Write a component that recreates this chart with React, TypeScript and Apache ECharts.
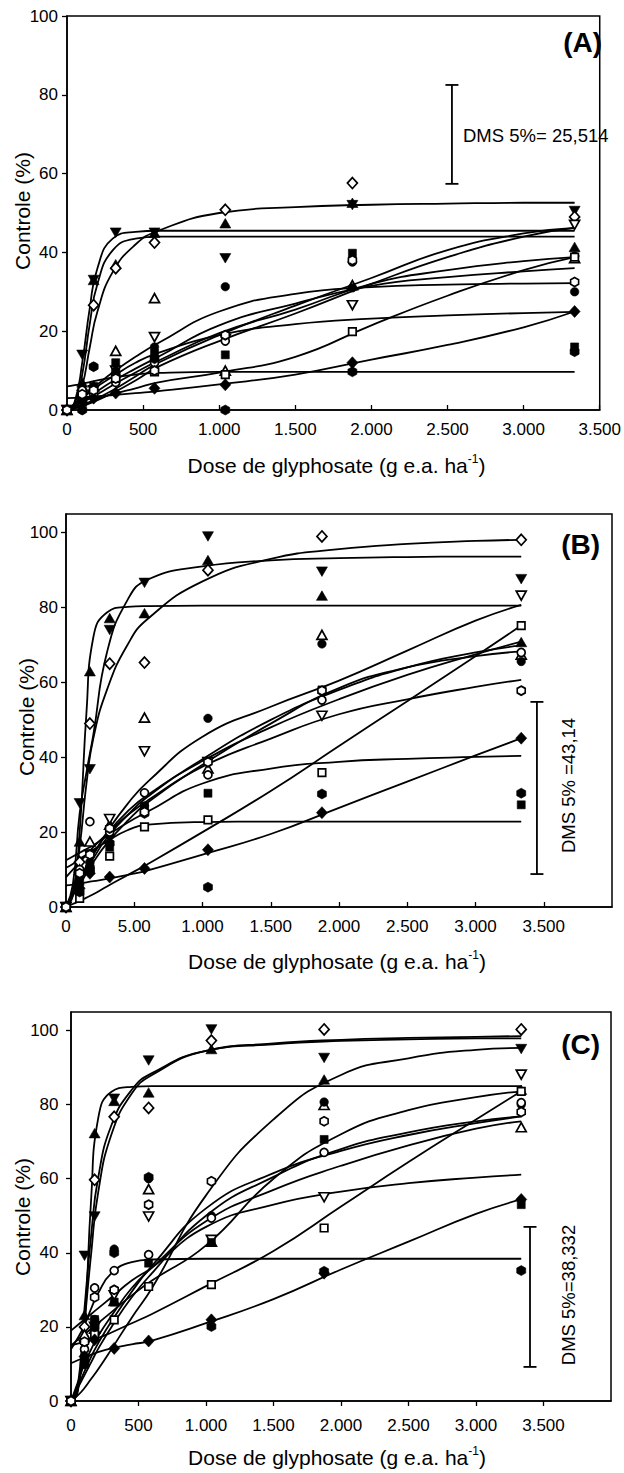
import React, { useEffect, useRef } from "react";
import * as echarts from "echarts";

// ---------- data ----------
const DOSES = [0, 100, 175, 320, 575, 1040, 1875, 3335];
const CURVE_X = [0, 50, 100, 150, 200, 300, 450, 600, 1000, 1500, 2000, 2500, 3000, 3335];
const X_TICKS = [0, 500, 1000, 1500, 2000, 2500, 3000, 3500];
const Y_TICKS = [0, 20, 40, 60, 80, 100];

const MARKERS = [
  "invTriFilled", "triFilled", "diamondOpen", "triOpen", "invTriOpen", "circleFilled",
  "circleOpen", "squareFilled", "squareOpen", "diamondFilled", "hexFilled", "hexOpen",
];

// Panel A – observed points
const A_invTriFilled = [0, 14, 33, 45, 45, 38.5, 52, 50.5];
const A_triFilled = [0, 7, 33, 37, 45, 47.4, 52.6, 41.4];
const A_diamondOpen = [0, 5, 26.6, 36, 42.5, 50.8, 57.6, 49];
const A_triOpen = [0, 4, 6, 15, 28.4, 10, 31.7, 38.5];
const A_invTriOpen = [0, 3, 5, 10, 18.5, 18, 26.6, 47];
const A_circleFilled = [0, 0, 11, 10, 16, 31.3, 31, 30];
const A_circleOpen = [0, 5, 5, 7, 12, 17.5, 37.6, 39];
const A_squareFilled = [0, 3, 6, 12, 14.4, 14, 39.8, 16];
const A_squareOpen = [0, 2, 4, 8, 9.7, 9, 19.9, 38.8];
const A_diamondFilled = [0, 2, 3, 4.3, 5.5, 6.4, 12, 25];
const A_hexFilled = [0, 0, 11, 9, 13, 0, 9.7, 14.8];
const A_hexOpen = [0, 4, 5, 8, 10, 19, 38, 32.5];
// Panel A – fitted curves (read at CURVE_X)
const A_fit_invTriFilled = [0, 2, 12, 26, 36, 43.5, 45.2, 45.5, 45.5, 45.5, 45.5, 45.5, 45.5, 45.5];
const A_fit_triFilled = [0, 1.5, 9, 22, 32, 40.5, 43.5, 44, 44, 44, 44, 44, 44, 44];
const A_fit_diamondOpen = [0, 1, 6, 16, 25, 35, 42, 45.5, 50, 51.5, 52.1, 52.4, 52.6, 52.6];
const A_fit_invTriOpen = [0, 0.5, 1.2, 2, 3, 5, 8.5, 12, 19, 26.5, 33.5, 40.6, 44.8, 46.2];
const A_fit_circleOpen = [0, 0.4, 1, 1.7, 2.5, 4.3, 7.5, 11, 17.5, 24.5, 32, 38.8, 44, 46.2];
const A_fit_triOpen = [0, 0.8, 1.8, 3, 4, 6.3, 9.5, 12.5, 19.5, 25.5, 32, 35.5, 37.8, 38.8];
const A_fit_circleFilled = [0, 1, 2.3, 3.5, 4.8, 7.3, 10.5, 13.5, 21.5, 27, 31.5, 33.7, 35.2, 36];
const A_fit_hexOpen = [0, 1.5, 3.2, 5, 6.5, 9.5, 13.5, 17, 25, 29.5, 31.2, 31.8, 32.1, 32.2];
const A_fit_squareFilled = [0, 1.5, 3, 4.5, 6, 8.5, 12, 14.5, 19, 21.8, 23.2, 24, 24.6, 24.9];
const A_fit_squareOpen = [0, 0.5, 1.2, 2, 2.8, 4, 5.5, 7, 9.5, 13.5, 21.5, 29, 35.5, 38.8];
const A_fit_diamondFilled = [3, 3.1, 3.2, 3.4, 3.5, 3.8, 4.3, 4.8, 6.5, 9, 12.8, 16.5, 21, 25];
const A_fit_hexFilled = [6, 6.3, 6.7, 7.1, 7.5, 8.2, 9, 9.4, 9.7, 9.7, 9.7, 9.7, 9.7, 9.7];
const A_DMS = [2529, 57.4, 82.5];

// Panel B – observed points
const B_invTriFilled = [0, 27.7, 36.8, 74, 86.6, 99, 89.6, 87.6];
const B_triFilled = [0, 17.5, 63, 77.2, 78.5, 92.7, 83.2, 70.8];
const B_diamondOpen = [0, 12, 49, 65, 65.3, 90, 99, 98.1];
const B_triOpen = [0, 10, 17.5, 22, 50.6, 37, 72.7, 67.4];
const B_invTriOpen = [0, 8, 14, 23.5, 41.6, 38.7, 51.1, 83.2];
const B_circleFilled = [0, 6, 12, 19, 27, 50.4, 70.3, 65.6];
const B_circleOpen = [0, 10, 22.8, 20, 30.5, 35.3, 55.3, 68];
const B_squareFilled = [0, 7, 11, 16, 26.8, 30.4, 58, 27.3];
const B_squareOpen = [0, 2.3, 10, 13.6, 21.4, 23.3, 35.9, 75.2];
const B_diamondFilled = [0, 5, 9, 8, 10.3, 15.3, 25.2, 45.1];
const B_hexFilled = [0, 4, 10, 17, 25, 5.3, 30.2, 30.4];
const B_hexOpen = [0, 9, 14, 21, 25.4, 38.7, 57.8, 57.8];
// Panel B – fitted curves
const B_fit_triFilled = [0, 3, 20, 52, 72, 78.7, 80.2, 80.4, 80.5, 80.5, 80.5, 80.5, 80.5, 80.5];
const B_fit_invTriFilled = [0, 6, 25, 36, 46, 68, 82, 87.5, 91, 92.6, 93.2, 93.5, 93.6, 93.6];
const B_fit_diamondOpen = [0, 4, 16, 33, 45, 58, 70, 77, 87, 93, 95.6, 97, 97.8, 98.1];
const B_fit_circleFilled = [0, 3.5, 7, 10.5, 14, 20, 27.5, 33.5, 45.5, 53.5, 60.5, 68.5, 76.5, 80.7];
const B_fit_squareOpen = [0, 0.8, 1.6, 2.5, 3.4, 5.5, 8.5, 11.5, 20, 31, 43, 55, 67, 75.2];
const B_fit_triOpen = [0, 4, 7.5, 11, 14, 19.5, 25.5, 30, 39, 48, 55.5, 62, 67.5, 70.9];
const B_fit_hexOpen = [0, 3.5, 7, 10, 13, 18.5, 24.5, 29.5, 39.5, 50, 58, 64, 68, 69.9];
const B_fit_squareFilled = [0, 3, 6, 9, 12, 17, 23, 28, 38, 49, 58.5, 64, 67, 68.3];
const B_fit_invTriOpen = [8, 10, 12, 14, 16, 19.5, 24.5, 28.5, 37.5, 45, 51.5, 55.5, 58.8, 60.7];
const B_fit_diamondFilled = [5.8, 6, 6.3, 6.6, 6.9, 7.5, 8.6, 9.8, 14, 19.5, 26.5, 33.5, 40.5, 45.1];
const B_fit_circleOpen = [12.5, 13.5, 14.5, 15.5, 16.5, 19, 22.5, 25.5, 33, 37, 38.8, 39.6, 40.1, 40.4];
const B_fit_hexFilled = [10.5, 11.5, 12.8, 14, 15.3, 17.5, 20.5, 22, 22.7, 22.8, 22.8, 22.8, 22.8, 22.8];
const B_DMS = [3450, 8.8, 54.8];

// Panel C – observed points
const C_invTriFilled = [0, 39.2, 49.8, 81.6, 91.9, 100.3, 92.6, 95];
const C_triFilled = [0, 23.2, 72.3, 81, 83.3, 95, 86.8, 84];
const C_diamondOpen = [0, 20, 59.7, 76.7, 79.1, 97.3, 100.3, 100.3];
const C_triOpen = [0, 18, 19.5, 27, 57.2, 43, 79.9, 73.9];
const C_invTriOpen = [0, 15, 20, 28.5, 49.8, 43.5, 55, 88.1];
const C_circleFilled = [0, 12, 22, 41, 60, 50, 80.7, 80];
const C_circleOpen = [0, 14, 30.5, 35.2, 39.5, 49.4, 67.1, 80.5];
const C_squareFilled = [0, 11, 22, 26.7, 37.2, 42.8, 70.6, 53];
const C_squareOpen = [0, 10, 18, 21.9, 30.9, 31.4, 46.7, 83.6];
const C_diamondFilled = [0, 12, 16.5, 14.2, 16.2, 21.9, 34.5, 54.4];
const C_hexFilled = [0, 10, 20, 40, 60.4, 20.1, 35, 35.2];
const C_hexOpen = [0, 16, 28, 30, 53, 59.3, 75.5, 78];
// Panel C – fitted curves
const C_fit_triFilled = [0, 2.5, 20, 55, 76, 83.5, 84.8, 85, 85, 85, 85, 85, 85, 85];
const C_fit_invTriFilled = [0, 4, 25, 45, 60, 74.5, 84, 88.5, 94.5, 96.3, 97.2, 97.6, 97.9, 97.9];
const C_fit_diamondOpen = [0, 3, 21, 40, 56, 72, 83, 88, 94.5, 96.5, 97.5, 98, 98.3, 98.5];
const C_fit_circleFilled = [0, 1.5, 3.5, 6, 8.5, 14, 22.5, 30.5, 55.5, 76, 88, 92.5, 94.8, 95.3];
const C_fit_squareFilled = [15, 16.5, 18, 19.5, 21, 24, 28.5, 32.5, 42, 60, 72, 78.5, 82, 83.6];
const C_fit_squareOpen = [15, 15.5, 16, 16.5, 17, 18.5, 21, 23.5, 31, 40.5, 52.5, 64.5, 76, 83.6];
const C_fit_circleOpen = [0, 4, 8, 12, 15.5, 21.5, 29.5, 36.5, 52, 61.5, 67.5, 71.8, 75, 76.8];
const C_fit_hexOpen = [0, 3.5, 7, 10.5, 14, 20, 28, 34.5, 50, 60.5, 68, 72.5, 75.5, 76.8];
const C_fit_triOpen = [0, 5, 10, 14, 17.5, 23, 30.5, 36, 48.5, 57, 63.5, 69, 73.5, 75.5];
const C_fit_invTriOpen = [19, 20.5, 22, 23.5, 25, 28, 32.5, 36, 47, 53, 56.5, 58.8, 60.3, 61.1];
const C_fit_diamondFilled = [10.2, 11, 11.8, 12.5, 13.2, 14.2, 15.3, 16.3, 21, 27.5, 35.5, 43, 50.5, 54.4];
const C_fit_hexFilled = [14, 17, 20.5, 25, 29, 34.5, 37.5, 38.2, 38.4, 38.4, 38.4, 38.4, 38.4, 38.4];
const C_DMS = [3400, 9.2, 47.0];

// ---------- assembly ----------
const FONT = '"Liberation Sans", Arial, Helvetica, sans-serif';
const HEX = "path://M0,-10L8.66,-5L8.66,5L0,10L-8.66,5L-8.66,-5Z";

const STYLE: Record<string, any> = {
  invTriFilled: { symbol: "triangle", size: [11, 9.5], rotate: 180, filled: true },
  triFilled: { symbol: "triangle", size: [11, 9.5], rotate: 0, filled: true },
  diamondOpen: { symbol: "diamond", size: [10, 11], rotate: 0, filled: false },
  triOpen: { symbol: "triangle", size: [10, 9], rotate: 0, filled: false },
  invTriOpen: { symbol: "triangle", size: [10, 9], rotate: 180, filled: false },
  circleFilled: { symbol: "circle", size: 8.5, rotate: 0, filled: true },
  circleOpen: { symbol: "circle", size: 8, rotate: 0, filled: false },
  squareFilled: { symbol: "rect", size: 8, rotate: 0, filled: true },
  squareOpen: { symbol: "rect", size: 7.5, rotate: 0, filled: false },
  diamondFilled: { symbol: "diamond", size: [11, 12], rotate: 0, filled: true },
  hexFilled: { symbol: HEX, size: [9, 10], rotate: 0, filled: true },
  hexOpen: { symbol: HEX, size: [8, 9], rotate: 0, filled: false },
};

const PANELS = [
  {
    label: "(A)",
    points: { invTriFilled: A_invTriFilled, triFilled: A_triFilled, diamondOpen: A_diamondOpen, triOpen: A_triOpen, invTriOpen: A_invTriOpen, circleFilled: A_circleFilled, circleOpen: A_circleOpen, squareFilled: A_squareFilled, squareOpen: A_squareOpen, diamondFilled: A_diamondFilled, hexFilled: A_hexFilled, hexOpen: A_hexOpen } as Record<string, number[]>,
    curves: { invTriFilled: A_fit_invTriFilled, triFilled: A_fit_triFilled, diamondOpen: A_fit_diamondOpen, triOpen: A_fit_triOpen, invTriOpen: A_fit_invTriOpen, circleFilled: A_fit_circleFilled, circleOpen: A_fit_circleOpen, squareFilled: A_fit_squareFilled, squareOpen: A_fit_squareOpen, diamondFilled: A_fit_diamondFilled, hexFilled: A_fit_hexFilled, hexOpen: A_fit_hexOpen } as Record<string, number[]>,
    dms: A_DMS,
    grid: { left: 67, top: 16, width: 545, height: 394 },
    xMax: 3500, yMax: 100, xInside: true, xMargin: 11, yMargin: 9, fiveLabel: "500",
  },
  {
    label: "(B)",
    points: { invTriFilled: B_invTriFilled, triFilled: B_triFilled, diamondOpen: B_diamondOpen, triOpen: B_triOpen, invTriOpen: B_invTriOpen, circleFilled: B_circleFilled, circleOpen: B_circleOpen, squareFilled: B_squareFilled, squareOpen: B_squareOpen, diamondFilled: B_diamondFilled, hexFilled: B_hexFilled, hexOpen: B_hexOpen } as Record<string, number[]>,
    curves: { invTriFilled: B_fit_invTriFilled, triFilled: B_fit_triFilled, diamondOpen: B_fit_diamondOpen, triOpen: B_fit_triOpen, invTriOpen: B_fit_invTriOpen, circleFilled: B_fit_circleFilled, circleOpen: B_fit_circleOpen, squareFilled: B_fit_squareFilled, squareOpen: B_fit_squareOpen, diamondFilled: B_fit_diamondFilled, hexFilled: B_fit_hexFilled, hexOpen: B_fit_hexOpen } as Record<string, number[]>,
    dms: B_DMS,
    grid: { left: 66, top: 514, width: 546, height: 393 },
    xMax: 4000, yMax: 105, xInside: true, xMargin: 10.5, yMargin: 8, fiveLabel: "5.00",
  },
  {
    label: "(C)",
    points: { invTriFilled: C_invTriFilled, triFilled: C_triFilled, diamondOpen: C_diamondOpen, triOpen: C_triOpen, invTriOpen: C_invTriOpen, circleFilled: C_circleFilled, circleOpen: C_circleOpen, squareFilled: C_squareFilled, squareOpen: C_squareOpen, diamondFilled: C_diamondFilled, hexFilled: C_hexFilled, hexOpen: C_hexOpen } as Record<string, number[]>,
    curves: { invTriFilled: C_fit_invTriFilled, triFilled: C_fit_triFilled, diamondOpen: C_fit_diamondOpen, triOpen: C_fit_triOpen, invTriOpen: C_fit_invTriOpen, circleFilled: C_fit_circleFilled, circleOpen: C_fit_circleOpen, squareFilled: C_fit_squareFilled, squareOpen: C_fit_squareOpen, diamondFilled: C_fit_diamondFilled, hexFilled: C_fit_hexFilled, hexOpen: C_fit_hexOpen } as Record<string, number[]>,
    dms: C_DMS,
    grid: { left: 71, top: 1012, width: 540, height: 389 },
    xMax: 4000, yMax: 105, xInside: false, xMargin: 16, yMargin: 12.5, fiveLabel: "500",
  },
];

const TEXTS = [
  { text: "(A)", x: 602, y: 42, size: 28, bold: true, align: "right", rot: 0 },
  { text: "(B)", x: 600, y: 544, size: 28, bold: true, align: "right", rot: 0 },
  { text: "(C)", x: 600, y: 1044, size: 28, bold: true, align: "right", rot: 0 },
  { text: "Controle (%)", x: 22, y: 211, size: 21, bold: false, align: "center", rot: 90 },
  { text: "Controle (%)", x: 26, y: 717, size: 21, bold: false, align: "center", rot: 90 },
  { text: "Controle (%)", x: 22.5, y: 1217, size: 21, bold: false, align: "center", rot: 90 },
  { text: "DMS 5%= 25,514", x: 463, y: 135, size: 18.5, bold: false, align: "left", rot: 0 },
  { text: "DMS 5% =43,14", x: 568, y: 785.5, size: 18.5, bold: false, align: "center", rot: 90 },
  { text: "DMS 5%=38,332", x: 568, y: 1295, size: 18.5, bold: false, align: "center", rot: 90 },
];
const X_TITLES = [
  { x: 336.5, y: 465 },
  { x: 337, y: 961 },
  { x: 337, y: 1457 },
];

function fmtX(v: number, five: string) {
  if (v === 0) return "0";
  if (v === 500) return five;
  if (v >= 4000) return "";
  const th = Math.floor(v / 1000);
  const rest = String(v % 1000).padStart(3, "0");
  return th + "." + rest;
}

function buildOption() {
  const grid: any[] = [];
  const xAxis: any[] = [];
  const yAxis: any[] = [];
  const series: any[] = [];
  const axisLine = { show: true, lineStyle: { color: "#000", width: 1.5 } };

  PANELS.forEach((p, i) => {
    grid.push({ ...p.grid, show: true, borderColor: "#000", borderWidth: 1.5, containLabel: false });
    xAxis.push({
      gridIndex: i, type: "value", min: 0, max: p.xMax, interval: 500,
      axisLine,
      axisTick: { show: true, inside: p.xInside, length: 5, lineStyle: { color: "#000", width: 1.3 }, customValues: X_TICKS },
      axisLabel: { customValues: X_TICKS, margin: p.xMargin, fontSize: 17, color: "#000", fontFamily: FONT, formatter: (v: number) => fmtX(v, p.fiveLabel), showMaxLabel: true, showMinLabel: true },
      splitLine: { show: false },
    });
    yAxis.push({
      gridIndex: i, type: "value", min: 0, max: p.yMax, interval: 20,
      axisLine,
      axisTick: { show: true, inside: false, length: 5, lineStyle: { color: "#000", width: 1.3 }, customValues: Y_TICKS },
      axisLabel: { customValues: Y_TICKS, margin: p.yMargin, fontSize: 17, color: "#000", fontFamily: FONT, formatter: (v: number) => (v % 20 === 0 && v <= 100 ? String(v) : "") },
      splitLine: { show: false },
    });

    MARKERS.forEach((k) => {
      series.push({
        type: "line", xAxisIndex: i, yAxisIndex: i, silent: true,
        data: CURVE_X.map((x, j) => [x, p.curves[k][j]]),
        smooth: 0.5, showSymbol: false, symbol: "none",
        lineStyle: { color: "#000", width: 1.8 }, z: 2,
      });
    });
    MARKERS.forEach((k) => {
      const s = STYLE[k];
      series.push({
        type: "scatter", xAxisIndex: i, yAxisIndex: i, silent: true,
        data: DOSES.map((x, j) => [x, p.points[k][j]]),
        symbol: s.symbol, symbolSize: s.size, symbolRotate: s.rotate,
        itemStyle: { color: s.filled ? "#000" : "#fff", borderColor: "#000", borderWidth: s.filled ? 0.6 : 1.7, opacity: 1 },
        z: 3, clip: false,
      });
    });
    series.push({
      type: "custom", xAxisIndex: i, yAxisIndex: i, silent: true, z: 4,
      data: [p.dms], encode: { x: 0, y: [1, 2] },
      renderItem: (_params: any, api: any) => {
        const x = api.value(0), lo = api.value(1), hi = api.value(2);
        const a = api.coord([x, lo]);
        const b = api.coord([x, hi]);
        const w = 6.5;
        const st = { stroke: "#000", lineWidth: 1.8 };
        return {
          type: "group",
          children: [
            { type: "line", shape: { x1: a[0], y1: a[1], x2: b[0], y2: b[1] }, style: st },
            { type: "line", shape: { x1: a[0] - w, y1: a[1], x2: a[0] + w, y2: a[1] }, style: st },
            { type: "line", shape: { x1: b[0] - w, y1: b[1], x2: b[0] + w, y2: b[1] }, style: st },
          ],
        };
      },
    });
  });

  const graphic: any[] = [];
  TEXTS.forEach((t) => {
    graphic.push({
      type: "text", x: t.x, y: t.y, rotation: (t.rot * Math.PI) / 180, z: 10,
      style: { text: t.text, fontSize: t.size, fontWeight: t.bold ? "bold" : "normal", fontFamily: FONT, fill: "#000", align: t.align, verticalAlign: "middle" },
    });
  });
  X_TITLES.forEach((t) => {
    graphic.push({
      type: "text", x: t.x, y: t.y, z: 10,
      style: {
        text: "{a|Dose de glyphosate (g e.a. ha}{b|-1}{a|)}",
        align: "center", verticalAlign: "middle", fill: "#000",
        rich: {
          a: { fontSize: 21, fontFamily: FONT, lineHeight: 24, fill: "#000" },
          b: { fontSize: 12, fontFamily: FONT, lineHeight: 19, verticalAlign: "top", fill: "#000" },
        },
      },
    });
  });

  return { animation: false, backgroundColor: "#fff", grid, xAxis, yAxis, series, graphic };
}

export default function App() {
  const ref = useRef<HTMLDivElement>(null);
  useEffect(() => {
    document.body.style.margin = "0";
    if (!ref.current) return;
    const chart = echarts.init(ref.current, undefined, { renderer: "svg" });
    chart.setOption(buildOption() as any);
    return () => chart.dispose();
  }, []);
  return <div ref={ref} style={{ width: 624, height: 1473, background: "#fff" }} />;
}
